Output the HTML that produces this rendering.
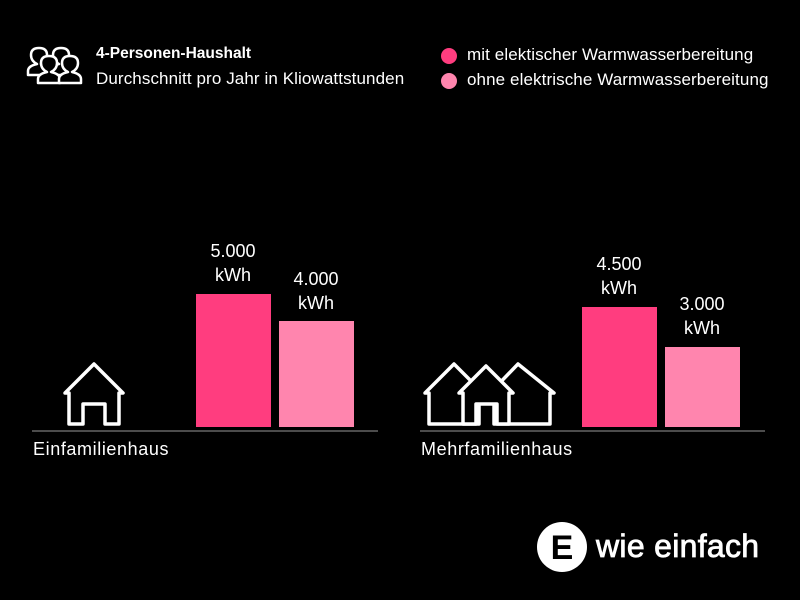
<!DOCTYPE html>
<html><head><meta charset="utf-8"><style>
body{margin:0;background:#000;width:800px;height:600px;overflow:hidden;font-family:"Liberation Sans","DejaVu Sans",sans-serif;color:#fff}
.t{position:absolute;white-space:nowrap}
</style></head><body>
<svg width="800" height="600" style="position:absolute;left:0;top:0">
<g fill="#000" stroke="#fff" stroke-width="2.5" stroke-linejoin="round">
<path d="M28 75 v-4 q0-5 9-7 q-6-3-6-9 q0-7 8-7 q8 0 8 7 q0 6-6 9 q9 2 9 7 v4 z"/>
<path d="M50 75 v-4 q0-5 9-7 q-6-3-6-9 q0-7 8-7 q8 0 8 7 q0 6-6 9 q9 2 9 7 v4 z"/>
<path d="M38 83 v-4 q0-5 9-7 q-6-3-6-9 q0-7 8-7 q8 0 8 7 q0 6-6 9 q9 2 9 7 v4 z"/>
<path d="M59 83 v-4 q0-5 9-7 q-6-3-6-9 q0-7 8-7 q8 0 8 7 q0 6-6 9 q9 2 9 7 v4 z"/>
</g>
<g fill="#000" stroke="#fff" stroke-width="3.5" stroke-linejoin="round">
<path d="M65 393 L94 364 L123 393 L119 393 L119 424 L105 424 L105 404 L83 404 L83 424 L69 424 L69 393 Z"/>
<path d="M490 393 L518 364 L554 393 L550 393 L550 424 L494 424 L494 393 Z"/>
<path d="M425 393 L454 364 L483 393 L479 393 L479 424 L429 424 L429 393 Z"/>
<path d="M459 393 L486 366 L513 393 L509 393 L509 424 L497 424 L497 404 L476 404 L476 424 L463 424 L463 393 Z"/>
</g>
<line x1="32" y1="431" x2="378" y2="431" stroke="#999" stroke-width="1"/>
<line x1="420" y1="431" x2="765" y2="431" stroke="#999" stroke-width="1"/>
<rect x="196" y="294" width="75" height="133" fill="#ff3d7f"/>
<rect x="279" y="321" width="75" height="106" fill="#ff85ae"/>
<rect x="582" y="307" width="75" height="120" fill="#ff3d7f"/>
<rect x="665" y="347" width="75" height="80" fill="#ff85ae"/>
<circle cx="449" cy="56" r="8" fill="#ff3d7f"/>
<circle cx="449" cy="81" r="8" fill="#ff85ae"/>
<circle cx="562" cy="547" r="25" fill="#fff"/>
<text x="562" y="559" font-size="34" font-weight="bold" text-anchor="middle" fill="#000" font-family="Liberation Sans">E</text>
</svg>
<div class="t" style="left:96px;top:45px;font-size:15.5px;font-weight:bold">4-Personen-Haushalt</div>
<div class="t" style="left:96px;top:69px;font-size:17px;letter-spacing:0.1px">Durchschnitt pro Jahr in Kliowattstunden</div>
<div class="t" style="left:467px;top:45px;font-size:17px;letter-spacing:0.1px">mit elektischer Warmwasserbereitung</div>
<div class="t" style="left:467px;top:70px;font-size:17px;letter-spacing:0.1px">ohne elektrische Warmwasserbereitung</div>
<div class="t" style="left:183px;top:239px;width:100px;text-align:center;font-size:18px;line-height:24px">5.000<br>kWh</div>
<div class="t" style="left:266px;top:267px;width:100px;text-align:center;font-size:18px;line-height:24px">4.000<br>kWh</div>
<div class="t" style="left:569px;top:252px;width:100px;text-align:center;font-size:18px;line-height:24px">4.500<br>kWh</div>
<div class="t" style="left:652px;top:292px;width:100px;text-align:center;font-size:18px;line-height:24px">3.000<br>kWh</div>
<div class="t" style="left:33px;top:439px;font-size:18px;letter-spacing:0.6px">Einfamilienhaus</div>
<div class="t" style="left:421px;top:439px;font-size:18px;letter-spacing:0.6px">Mehrfamilienhaus</div>
<div class="t" style="left:596px;top:528px;font-size:32px;letter-spacing:0.3px;-webkit-text-stroke:0.8px #fff">wie einfach</div>
</body></html>
